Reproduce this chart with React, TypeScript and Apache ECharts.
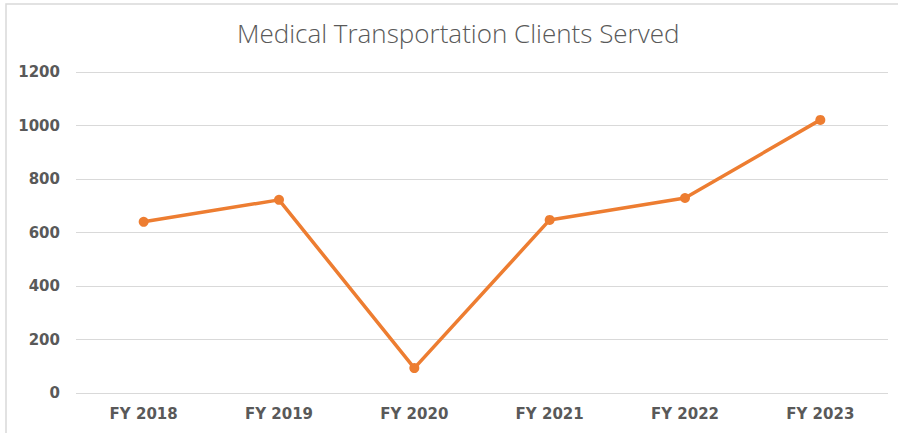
import React, { useEffect, useRef } from "react";
import * as echarts from "echarts";

const categories = ["FY 2018", "FY 2019", "FY 2020", "FY 2021", "FY 2022", "FY 2023"];
const clientsServed = [640, 722, 93, 647, 729, 1021];
const titleText = "Medical Transportation Clients Served";

export default function App() {
  const ref = useRef<HTMLDivElement>(null);
  useEffect(() => {
    document.body.style.margin = "0";
    const chart = echarts.init(ref.current!, null, { renderer: "svg" });
    chart.setOption({
      animation: false,
      backgroundColor: "#ffffff",
      title: {
        text: titleText,
        left: 237,
        top: 20,
        padding: 0,
        textStyle: {
          fontFamily: "Open Sans",
          fontWeight: 300,
          fontSize: 26,
          color: "#595959",
        },
      },
      graphic: [
        {
          type: "rect",
          shape: { x: 6, y: 4, width: 1000, height: 1000 },
          style: { fill: "none", stroke: "#d9d9d9", lineWidth: 1.5 },
          silent: true,
        },
      ],
      grid: { left: 76, right: 10, top: 72, bottom: 40 },
      xAxis: {
        type: "category",
        data: categories,
        boundaryGap: true,
        axisLine: { show: false },
        axisTick: { show: false },
        axisLabel: {
          margin: 13,
          fontFamily: "DejaVu Sans",
          fontWeight: "bold",
          fontSize: 15,
          color: "#595959",
        },
      },
      yAxis: {
        type: "value",
        min: 0,
        max: 1200,
        interval: 200,
        axisLine: { show: false },
        axisTick: { show: false },
        splitLine: { lineStyle: { color: "#d9d9d9", width: 1 } },
        axisLabel: {
          margin: 16,
          fontFamily: "DejaVu Sans",
          fontWeight: "bold",
          fontSize: 15,
          color: "#595959",
          formatter: (v: number) => String(v),
        },
      },
      series: [
        {
          type: "line",
          data: clientsServed,
          symbol: "circle",
          symbolSize: 10,
          lineStyle: { color: "#ED7D31", width: 3.5 },
          itemStyle: { color: "#ED7D31" },
        },
      ],
    });
    return () => chart.dispose();
  }, []);
  return <div ref={ref} style={{ width: 898, height: 433 }} />;
}
